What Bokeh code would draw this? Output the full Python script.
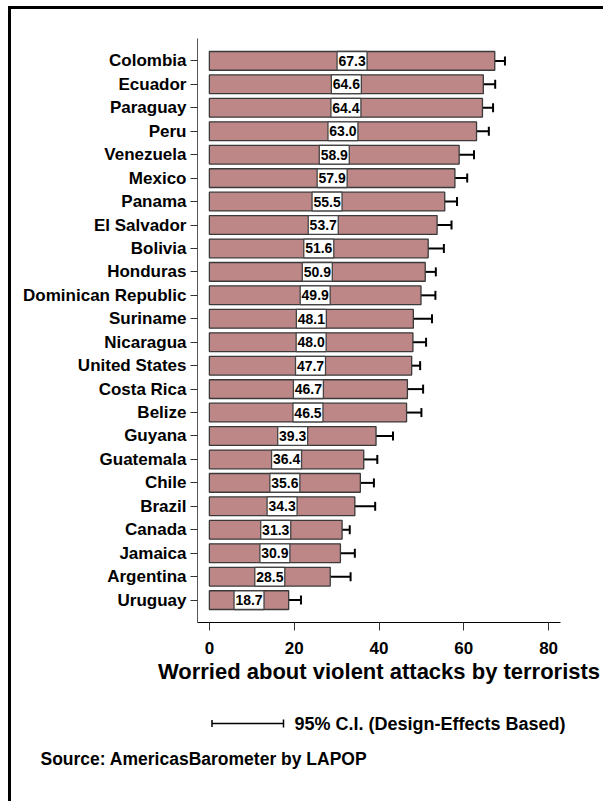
from bokeh.plotting import figure
from bokeh.layouts import column
from bokeh.models import (ColumnDataSource, FactorRange, Range1d, Whisker, TeeHead,
                          FixedTicker)
from bokeh.core.properties import value
from bokeh.embed import file_html
from bokeh.resources import INLINE

# Share of respondents worried about violent attacks by terrorists (0-100)
countries = ["Colombia", "Ecuador", "Paraguay", "Peru", "Venezuela", "Mexico", "Panama",
             "El Salvador", "Bolivia", "Honduras", "Dominican Republic", "Suriname",
             "Nicaragua", "United States", "Costa Rica", "Belize", "Guyana", "Guatemala",
             "Chile", "Brazil", "Canada", "Jamaica", "Argentina", "Uruguay"]
means = [67.3, 64.6, 64.4, 63.0, 58.9, 57.9, 55.5, 53.7, 51.6, 50.9, 49.9, 48.1,
         48.0, 47.7, 46.7, 46.5, 39.3, 36.4, 35.6, 34.3, 31.3, 30.9, 28.5, 18.7]
ci_low = [65.1, 62.1, 61.9, 60.3, 55.6, 55.1, 52.9, 50.4, 47.9, 48.6, 46.7, 43.8,
          45.2, 45.9, 43.1, 43.1, 35.5, 33.4, 32.8, 29.5, 29.9, 27.7, 23.9, 16.0]
ci_high = [69.7, 67.4, 66.9, 65.9, 62.4, 60.8, 58.4, 57.1, 55.3, 53.4, 53.3, 52.5,
           51.1, 49.7, 50.4, 50.0, 43.3, 39.6, 38.8, 39.1, 33.1, 34.3, 33.3, 21.6]
x_ticks = [0, 20, 40, 60, 80]

axis_title = "Worried about violent attacks by terrorists"
key_text = "95% C.I. (Design-Effects Based)"
source_text = "Source: AmericasBarometer by  LAPOP"

FONT = "Liberation Sans"
BAR = "#BE8787"

src = ColumnDataSource(dict(
    country=countries,
    mean=means,
    mid=[m / 2 for m in means],
    label=[f"{m:.1f}" for m in means],
    lo=ci_low,
    hi=ci_high,
))

# ---- main bar chart ----
chart = figure(width=592, height=691, output_backend="svg", toolbar_location=None,
               y_range=FactorRange(factors=list(reversed(countries)),
                                   range_padding=0.455, range_padding_units="absolute"),
               x_range=Range1d(-2.8, 82.8),
               min_border_left=186, min_border_right=43, min_border_top=29,
               min_border_bottom=78)
chart.frame_align = False
chart.background_fill_color = "white"
chart.border_fill_color = "white"
chart.outline_line_color = None
chart.xgrid.visible = False
chart.ygrid.visible = False

chart.hbar(y="country", left=0, right="mean", height=0.8, source=src,
           fill_color=BAR, line_color="#3a3a3a", line_width=1.3)

chart.add_layout(Whisker(source=src, base="country", lower="lo", upper="hi",
                         dimension="width", line_color="black", line_width=2,
                         lower_head=TeeHead(size=9, line_color="black", line_width=2),
                         upper_head=TeeHead(size=9, line_color="black", line_width=2)))

# value boxes centred at half the bar length
chart.rect(x="mid", y="country", width=30, width_units="screen", height=0.8, source=src,
           fill_color="white", line_color="#444444", line_width=1.3)
chart.text(x="mid", y="country", text="label", source=src,
           text_font=value(FONT), text_font_style="bold", text_font_size="14px",
           text_align="center", text_baseline="middle", text_color="black")

chart.yaxis.major_label_text_font = FONT
chart.yaxis.major_label_text_font_style = "bold"
chart.yaxis.major_label_text_font_size = "17px"
chart.yaxis.major_label_text_color = "black"
chart.yaxis.axis_line_color = "#555555"
chart.yaxis.major_tick_line_color = "#333333"
chart.yaxis.major_tick_out = 7
chart.yaxis.major_tick_in = 0
chart.yaxis.minor_tick_line_color = None
chart.yaxis.major_label_standoff = 4

chart.xaxis.ticker = FixedTicker(ticks=x_ticks)
chart.xaxis.major_label_text_font = FONT
chart.xaxis.major_label_text_font_style = "bold"
chart.xaxis.major_label_text_font_size = "17px"
chart.xaxis.major_label_text_color = "black"
chart.xaxis.axis_line_color = "black"
chart.xaxis.axis_line_width = 1.2
chart.xaxis.major_tick_line_color = "#333333"
chart.xaxis.major_tick_out = 8
chart.xaxis.major_tick_in = 0
chart.xaxis.minor_tick_line_color = None
chart.xaxis.major_label_standoff = 11
chart.xaxis.axis_label = axis_title
chart.xaxis.axis_label_text_font = FONT
chart.xaxis.axis_label_text_font_style = "bold"
chart.xaxis.axis_label_text_font_size = "22px"
chart.xaxis.axis_label_text_color = "black"
chart.xaxis.axis_label_standoff = 2

# ---- key and source strip (pixel coordinates, y down) ----
notes = figure(width=592, height=101, output_backend="svg", toolbar_location=None,
               x_range=Range1d(0, 592), y_range=Range1d(101, 0),
               x_axis_location=None, y_axis_location=None, min_border=0)
notes.frame_align = False
notes.background_fill_color = "white"
notes.border_fill_color = "white"
notes.outline_line_color = None
notes.xgrid.visible = False
notes.ygrid.visible = False

notes.segment(x0=[200.5, 200.5, 272], y0=[23, 19.5, 19], x1=[272, 200.5, 272],
              y1=[23, 26.5, 27], line_color="black", line_width=1.5)
notes.text(x=[283], y=[23], text=[key_text], text_font=value(FONT),
           text_font_style="bold", text_font_size="18px", text_align="left",
           text_baseline="middle", text_color="black")
notes.text(x=[29], y=[58], text=[source_text], text_font=value(FONT),
           text_font_style="bold", text_font_size="17.5px", text_align="left",
           text_baseline="middle", text_color="black")

# page frame: heavy top and left rule
p = column(chart, notes, spacing=0,
           styles={"margin-left": "8px", "margin-top": "6px",
                   "border-top": "3px solid black", "border-left": "3px solid black"})

open("out.html", "w").write(file_html(p, INLINE))
